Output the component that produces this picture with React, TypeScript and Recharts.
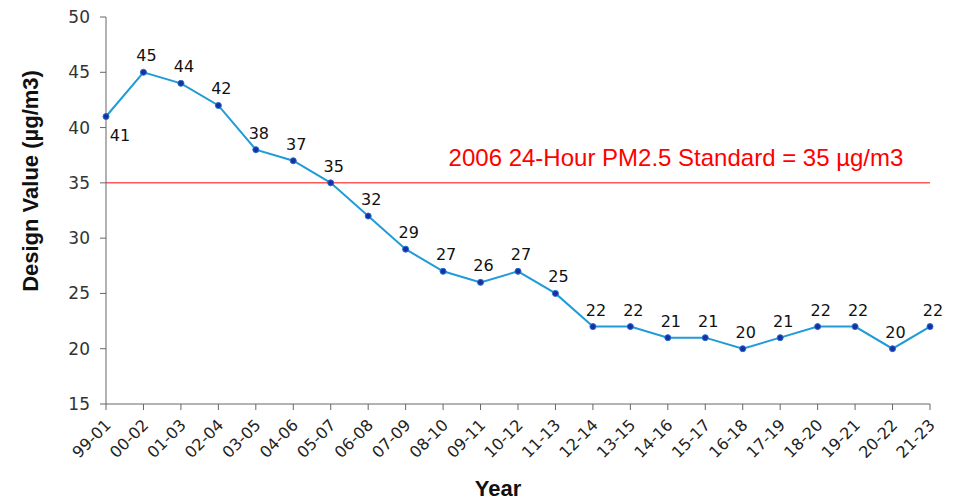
import { LineChart, Line, XAxis, YAxis, ReferenceLine, LabelList } from "recharts";

const years = [
  "99-01", "00-02", "01-03", "02-04", "03-05", "04-06", "05-07", "06-08",
  "07-09", "08-10", "09-11", "10-12", "11-13", "12-14", "13-15", "14-16",
  "15-17", "16-18", "17-19", "18-20", "19-21", "20-22", "21-23",
];
const designValues = [41, 45, 44, 42, 38, 37, 35, 32, 29, 27, 26, 27, 25, 22, 22, 21, 21, 20, 21, 22, 22, 20, 22];
const yTicks = [15, 20, 25, 30, 35, 40, 45, 50];
const standard = 35;
const standardLabel = "2006 24-Hour PM2.5 Standard = 35 µg/m3";

const data = years.map((year, i) => ({ year, value: designValues[i] }));

const numFont = "'DejaVu Sans', sans-serif";
const titleFont = "'Liberation Sans', Arial, sans-serif";

const XTick = (props: any) => {
  const { x, y, payload } = props;
  return (
    <text
      x={x + 6}
      y={y + 14}
      transform={`rotate(-45, ${x + 6}, ${y + 14})`}
      textAnchor="end"
      fontSize={16}
      fill="#222"
      fontFamily={numFont}
    >
      {payload.value}
    </text>
  );
};

const PointLabel = (props: any) => {
  const { x, y, value, index } = props;
  const below = index === 0;
  return (
    <text
      x={below ? x + 14 : x + 3}
      y={below ? y + 24 : y - 11}
      textAnchor="middle"
      fontSize={16}
      fill="#111"
      fontFamily={numFont}
    >
      {value}
    </text>
  );
};

const StandardLabel = (props: any) => {
  const { viewBox } = props;
  return (
    <text
      x={676}
      y={viewBox.y - 17}
      textAnchor="middle"
      fontSize={24}
      fill="#ff0000"
      fontFamily={titleFont}
    >
      {standardLabel}
    </text>
  );
};

const YTitle = () => (
  <text
    x={38}
    y={181}
    transform="rotate(-90, 38, 181)"
    textAnchor="middle"
    fontSize={22}
    fontWeight={700}
    fill="#111"
    fontFamily={titleFont}
  >
    Design Value (µg/m3)
  </text>
);

const XTitle = () => (
  <text
    x={498}
    y={496}
    textAnchor="middle"
    fontSize={22}
    fontWeight={700}
    fill="#111"
    fontFamily={titleFont}
  >
    Year
  </text>
);

export default function App() {
  return (
    <div style={{ position: "absolute", left: 0, top: 0, background: "#fff" }}>
      <LineChart
        width={954}
        height={503}
        data={data}
        margin={{ top: 17, right: 24, bottom: 0, left: 0 }}
      >
        <XAxis
          dataKey="year"
          height={99}
          interval={0}
          tick={<XTick />}
          tickSize={6}
          axisLine={{ stroke: "#666" }}
          tickLine={{ stroke: "#666" }}
          label={<XTitle />}
        />
        <YAxis
          domain={[15, 50]}
          ticks={yTicks}
          width={106}
          tickSize={6}
          tickMargin={10}
          tick={{ fontSize: 17, fill: "#333", fontFamily: numFont }}
          axisLine={{ stroke: "#666" }}
          tickLine={{ stroke: "#666" }}
          label={<YTitle />}
        />
        <ReferenceLine
          y={standard}
          stroke="#ff5a5a"
          strokeWidth={1.5}
          label={<StandardLabel />}
        />
        <Line
          type="linear"
          dataKey="value"
          stroke="#1f9bd7"
          strokeWidth={2}
          dot={{ r: 3, fill: "#1b2fa0", stroke: "#1f6fd0", strokeWidth: 1 }}
          isAnimationActive={false}
        >
          <LabelList dataKey="value" content={<PointLabel />} />
        </Line>
      </LineChart>
    </div>
  );
}
